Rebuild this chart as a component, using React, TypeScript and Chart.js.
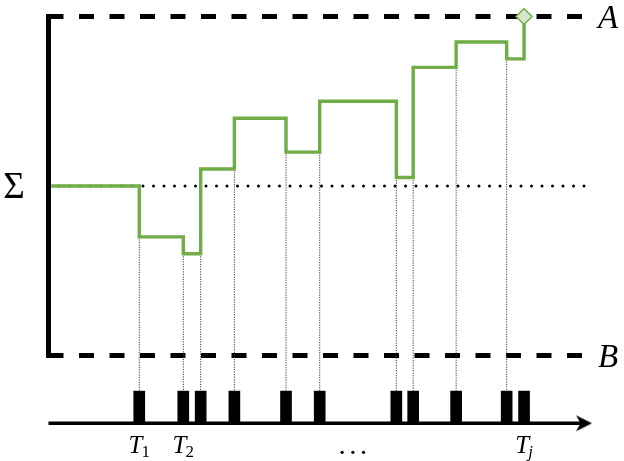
import React, { useEffect, useRef } from 'react';
import { Chart, registerables } from 'chart.js';

Chart.register(...registerables);

// ---- data (time in arbitrary units 0..100, level in units where B = 0, A = 1) ----
const eventTimes = [16.7, 24.8, 28.0, 34.2, 43.7, 49.9, 64.0, 67.1, 75.0, 84.3, 87.5];
const stepLevels = [0.35, 0.3, 0.55, 0.7, 0.6, 0.75, 0.525, 0.85, 0.925, 0.875, 1.0];
const startTime = 0.5;
const sigmaLevel = 0.5;
const boundValues = [1.0, 0.0];
const boundLabels = ['A', 'B'];
const boundEnd = 98.5;
const sigmaLineEnd = 100;
const timeAxisLevel = -0.2;
const markTop = -0.105;
const timeAxisEnd = 98.35;
const labelEventIndex = [0, 1, 10];
const labelMain = ['T', 'T', 'T'];
const labelSub = ['1', '2', 'j'];
const ellipsisTime = 56;

const GREEN = '#70ad47';
const SERIF = '"Liberation Serif", "Times New Roman", Times, serif';

function makeArrowHead(): HTMLCanvasElement {
  const c = document.createElement('canvas');
  c.width = 20;
  c.height = 20;
  const g = c.getContext('2d')!;
  g.fillStyle = '#000';
  g.beginPath();
  g.moveTo(19, 10);
  g.lineTo(3, 2);
  g.lineTo(7.5, 10);
  g.lineTo(3, 18);
  g.closePath();
  g.fill();
  return c;
}

const labelPlugin = {
  id: 'diagramLabels',
  afterDraw(chart: any) {
    const { ctx, chartArea } = chart;
    const x = chart.scales.x;
    const y = chart.scales.y;
    ctx.save();
    ctx.fillStyle = '#000';
    ctx.textBaseline = 'alphabetic';
    // A / B
    ctx.font = `italic 33px ${SERIF}`;
    ctx.textAlign = 'left';
    boundLabels.forEach((lab, i) => {
      ctx.fillText(lab, chartArea.right + 6, y.getPixelForValue(boundValues[i]) + 11);
    });
    // Sigma
    ctx.font = `37px ${SERIF}`;
    ctx.textAlign = 'center';
    ctx.fillText('Σ', chartArea.left - 34.5, y.getPixelForValue(sigmaLevel) + 12);
    // T labels
    const base = y.getPixelForValue(timeAxisLevel) + 30;
    labelEventIndex.forEach((ei, i) => {
      const cx = x.getPixelForValue(eventTimes[ei]);
      const mainFont = `italic 25px ${SERIF}`;
      const subFont = labelSub[i] === 'j' ? `italic 17px ${SERIF}` : `17px ${SERIF}`;
      ctx.font = mainFont;
      const wMain = ctx.measureText(labelMain[i]).width;
      ctx.font = subFont;
      const wSub = ctx.measureText(labelSub[i]).width;
      const total = wMain + wSub - 1;
      const sx = cx - total / 2;
      ctx.textAlign = 'left';
      ctx.font = mainFont;
      ctx.fillText(labelMain[i], sx, base);
      ctx.font = subFont;
      ctx.fillText(labelSub[i], sx + wMain - 1, base + 4);
    });
    // ellipsis
    const ex = x.getPixelForValue(ellipsisTime);
    for (let k = -1; k <= 1; k++) {
      ctx.beginPath();
      ctx.arc(ex + k * 10.7, base - 1, 1.6, 0, Math.PI * 2);
      ctx.fill();
    }
    ctx.restore();
  },
};

export default function App() {
  const ref = useRef<HTMLCanvasElement | null>(null);

  useEffect(() => {
    if (!ref.current) return;
    const arrowHead = makeArrowHead();
    const stepData = [{ x: startTime, y: sigmaLevel }].concat(
      eventTimes.map((t, i) => ({ x: t, y: stepLevels[i] }))
    );
    const lastIdx = stepData.length - 1;

    const verticals = eventTimes.slice(0, eventTimes.length - 1).map((t, i) => {
      const prev = i === 0 ? sigmaLevel : stepLevels[i - 1];
      const low = Math.min(prev, stepLevels[i]);
      return {
        type: 'line',
        data: [{ x: t, y: low }, { x: t, y: markTop }],
        borderColor: '#3a3a3a',
        borderWidth: 1,
        borderDash: [1.2, 1.3],
        pointRadius: 0,
        clip: false,
      };
    });

    const datasets: any[] = [
      {
        type: 'line',
        data: stepData,
        stepped: 'before',
        borderColor: GREEN,
        borderWidth: 3.4,
        pointRadius: (c: any) => (c.dataIndex === lastIdx ? 8 : 0),
        pointStyle: 'rectRot',
        pointBackgroundColor: '#d5e8cc',
        pointBorderColor: GREEN,
        pointBorderWidth: 1.5,
        clip: false,
      },
      {
        type: 'line',
        data: [{ x: 0, y: sigmaLevel }, { x: sigmaLineEnd, y: sigmaLevel }],
        borderColor: '#000',
        borderWidth: 3,
        borderDash: [0, 10.5],
        borderCapStyle: 'round',
        pointRadius: 0,
        clip: false,
      },
      ...verticals,
      ...boundValues.map((v) => ({
        type: 'line',
        data: [{ x: 0, y: v }, { x: boundEnd, y: v }],
        borderColor: '#000',
        borderWidth: 5,
        borderDash: [15, 15.5],
        pointRadius: 0,
        clip: false,
      })),
      {
        type: 'line',
        data: [{ x: 0, y: boundValues[1] }, { x: 0, y: boundValues[0] }],
        borderColor: '#000',
        borderWidth: 5,
        borderCapStyle: 'square',
        pointRadius: 0,
        clip: false,
      },
      {
        type: 'line',
        data: [{ x: 0, y: timeAxisLevel }, { x: timeAxisEnd, y: timeAxisLevel }],
        borderColor: '#000',
        borderWidth: 3.5,
        pointRadius: (c: any) => (c.dataIndex === 1 ? 10 : 0),
        pointStyle: arrowHead,
        pointRotation: 0,
        pointBackgroundColor: '#000',
        pointBorderColor: '#000',
        pointBorderWidth: 0,
        clip: false,
      },
      {
        type: 'bar',
        data: eventTimes.map((t) => ({ x: t, y: [timeAxisLevel, markTop] })),
        backgroundColor: '#000',
        borderWidth: 0,
        barThickness: 11,
        clip: false,
      },
    ];

    const chart = new Chart(ref.current, {
      type: 'line',
      data: { datasets },
      options: {
        responsive: false,
        devicePixelRatio: 1,
        animation: false,
        events: [],
        layout: { autoPadding: false, padding: { left: 48.5, right: 32, top: 16.5, bottom: 3.8 } },
        plugins: { legend: { display: false }, tooltip: { enabled: false } },
        scales: {
          x: { type: 'linear', min: 0, max: 100, offset: false, display: false },
          y: { type: 'linear', min: -0.3, max: 1, display: false },
        },
      },
      plugins: [labelPlugin],
    } as any);
    let alive = true;
    if ((document as any).fonts && (document as any).fonts.load) {
      Promise.all([
        (document as any).fonts.load(`italic 25px ${SERIF}`),
        (document as any).fonts.load(`25px ${SERIF}`),
      ]).then(() => { if (alive) chart.update(); }).catch(() => {});
    }
    return () => { alive = false; chart.destroy(); };
  }, []);

  return (
    <div style={{ position: 'absolute', left: 0, top: 0, width: 624, height: 461, background: '#fff' }}>
      <canvas ref={ref} width={624} height={461} style={{ display: 'block' }} />
    </div>
  );
}
